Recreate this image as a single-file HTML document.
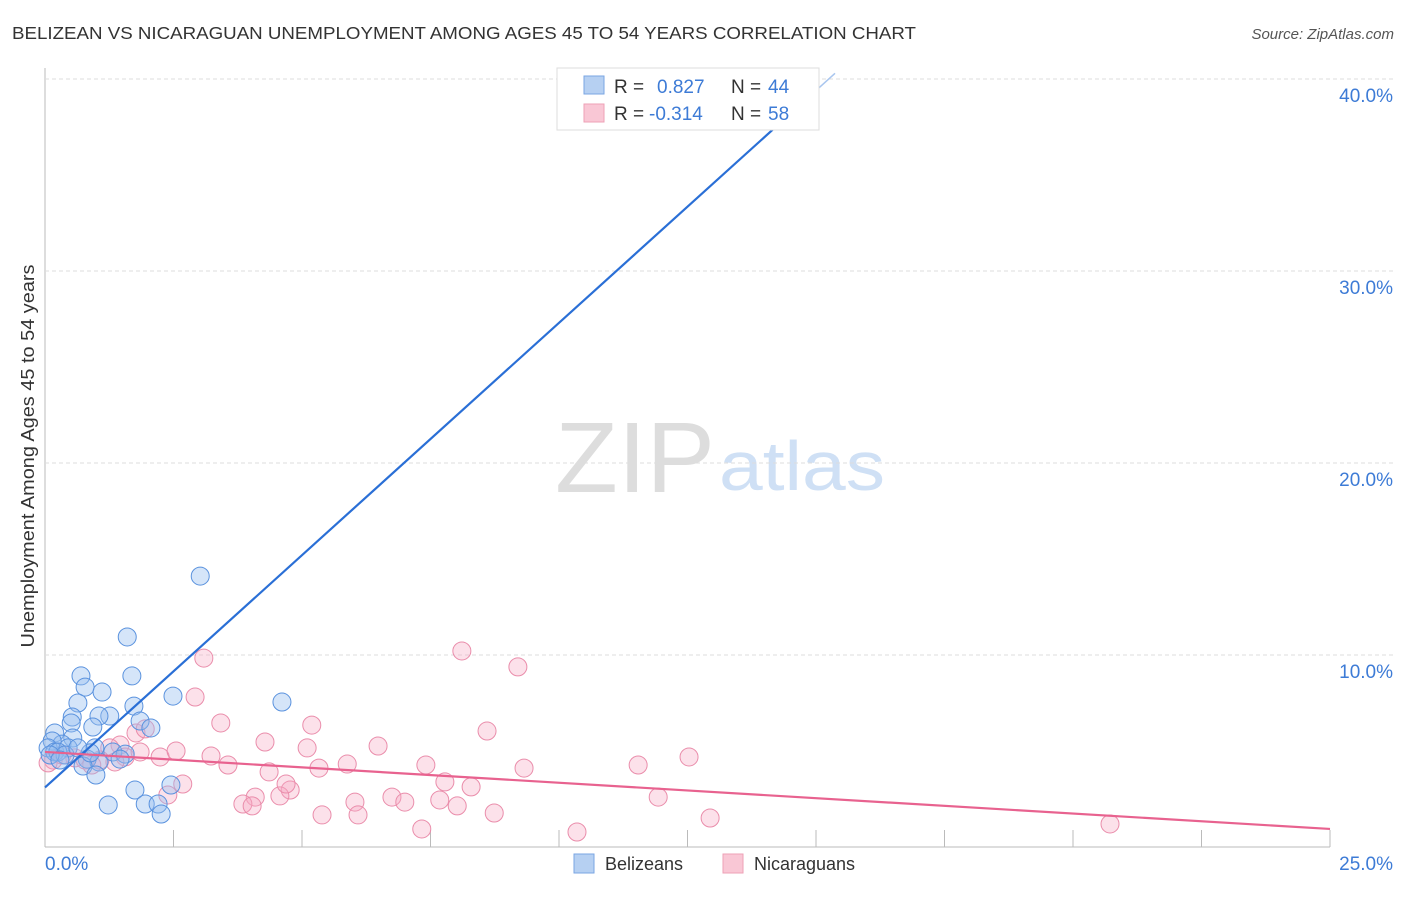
<!DOCTYPE html>
<html><head><meta charset="utf-8"><style>
body{margin:0;background:#fff;font-family:"Liberation Sans",sans-serif}
svg text{font-family:"Liberation Sans",sans-serif}
</style></head><body>
<svg id="c" width="1406" height="892" xmlns="http://www.w3.org/2000/svg">
<text x="12" y="39" font-size="17.5" fill="#333" textLength="904" lengthAdjust="spacingAndGlyphs">BELIZEAN VS NICARAGUAN UNEMPLOYMENT AMONG AGES 45 TO 54 YEARS CORRELATION CHART</text>
<text x="1394" y="39" font-size="15" fill="#555" font-style="italic" text-anchor="end">Source: ZipAtlas.com</text>
<text x="635" y="492" font-size="100" fill="#ddd" font-family="Liberation Serif, serif" text-anchor="middle" textLength="160" lengthAdjust="spacingAndGlyphs">ZIP</text>
<text x="802" y="490" font-size="70" fill="#cfe0f5" text-anchor="middle" textLength="166" lengthAdjust="spacingAndGlyphs">atlas</text>
<text transform="translate(34,456) rotate(-90)" font-size="18" fill="#333" text-anchor="middle" textLength="383" lengthAdjust="spacingAndGlyphs">Unemployment Among Ages 45 to 54 years</text>
<g id="grid"></g><g id="pts"></g><g id="lines"></g>
<g>
<rect x="557" y="68" width="262" height="62" fill="#fff" stroke="#ddd"/>
<rect x="584" y="76" width="20" height="18" fill="#b6d0f2" stroke="#7aa6e3"/>
<rect x="584" y="104" width="20" height="18" fill="#f9c7d5" stroke="#eea0b6"/>
<text x="614" y="93" font-size="19" fill="#333">R =</text><text x="657" y="93" font-size="19" fill="#3d7bd6">0.827</text>
<text x="731" y="93" font-size="19" fill="#333">N =</text><text x="768" y="93" font-size="19" fill="#3d7bd6">44</text>
<text x="614" y="120" font-size="19" fill="#333">R =</text><text x="649" y="120" font-size="19" fill="#3d7bd6">-0.314</text>
<text x="731" y="120" font-size="19" fill="#333">N =</text><text x="768" y="120" font-size="19" fill="#3d7bd6">58</text>
</g>
<g>
<rect x="574" y="854" width="20" height="19" fill="#b6d0f2" stroke="#7aa6e3"/>
<text x="605" y="870" font-size="18" fill="#333">Belizeans</text>
<rect x="723" y="854" width="20" height="19" fill="#f9c7d5" stroke="#eea0b6"/>
<text x="754" y="870" font-size="18" fill="#333">Nicaraguans</text>
</g>
</svg>
<script>
const xTicks=[0,2.5,5,7.5,10,12.5,15,17.5,20,22.5,25];
const yTicks=[10,20,30,40];
const blueX=[3.02,1.60,0.70,1.69,0.78,1.11,0.64,2.49,4.61,1.73,0.53,1.26,1.05,1.85,2.06,0.93,0.51,0.19,0.54,0.33,0.14,0.06,0.19,0.45,0.97,1.32,1.56,1.46,0.82,1.05,0.74,0.99,2.45,1.75,1.23,1.95,2.20,2.26,0.25,0.39,0.88,0.10,0.29,0.64];
const blueY=[14.11,10.94,8.91,8.91,8.33,8.07,7.50,7.86,7.55,7.34,6.77,6.82,6.82,6.56,6.20,6.25,6.46,5.94,5.68,5.36,5.52,5.16,4.95,5.16,5.16,4.95,4.84,4.58,4.58,4.43,4.22,3.75,3.23,2.97,2.19,2.24,2.24,1.72,4.95,4.79,4.90,4.79,4.53,5.16];
const pinkX=[3.09,2.92,3.42,5.19,1.77,1.95,4.28,5.10,6.48,8.11,9.20,8.60,12.53,11.54,2.24,2.55,3.23,3.56,4.36,5.33,5.88,7.41,7.78,8.29,9.32,4.77,4.09,3.85,4.03,4.57,4.69,6.75,7.00,6.03,6.09,5.39,7.68,8.02,8.74,7.33,10.35,11.93,12.94,20.72,2.68,2.39,1.46,1.26,0.16,0.06,0.33,0.58,0.78,1.07,1.56,0.91,1.85,1.36];
const pinkY=[9.84,7.81,6.46,6.35,5.94,6.15,5.47,5.16,5.26,10.21,9.38,6.04,4.69,4.27,4.69,5.00,4.74,4.27,3.91,4.11,4.32,4.27,3.39,3.13,4.11,2.97,2.60,2.24,2.14,2.66,3.28,2.60,2.34,2.34,1.67,1.67,2.45,2.14,1.77,0.94,0.78,2.60,1.51,1.20,3.28,2.71,5.31,5.16,4.53,4.38,4.79,4.64,4.53,4.53,4.69,4.27,4.95,4.43];
const blueFit=[3.1,2.42];
const pinkFit=[4.95,-0.1604];
const X=v=>45+v*51.4, Y=v=>847-v*19.2;
const NS='http://www.w3.org/2000/svg';
function mk(p,t,a){const e=document.createElementNS(NS,t);for(const k in a)e.setAttribute(k,a[k]);p.appendChild(e);return e;}
const grid=document.getElementById('grid');
let ax=mk(grid,'line',{x1:45,y1:68,x2:45,y2:847,stroke:'#bbb'});


let bx=mk(grid,'line',{x1:45,y1:847,x2:1330,y2:847,stroke:'#bbb'});


yTicks.forEach(v=>{
 const g=mk(grid,'line',{x1:45,x2:1395,y1:Y(v),y2:Y(v),stroke:'#ddd','stroke-dasharray':'4,3'});
 
 
 const t=mk(grid,'text',{x:1393,y:Y(v)+23,'font-size':19,fill:'#3d7bd6','text-anchor':'end'});
 t.textContent=v.toFixed(1)+'%';
 
 
});
xTicks.forEach((v,i)=>{
 if(i>0){const l=mk(grid,'line',{x1:X(v),x2:X(v),y1:830,y2:847,stroke:'#bbb'});
 
 }
});
[[0,'start',45],[25,'end',1393]].forEach(([v,a,x])=>{
 const t=mk(grid,'text',{x:x,y:870,'font-size':19,fill:'#3d7bd6','text-anchor':a});
 t.textContent=v.toFixed(1)+'%';
 
 
});
const pts=document.getElementById('pts');
pinkX.forEach((v,i)=>{
 const c=mk(pts,'circle',{cx:X(v),cy:Y(pinkY[i]),r:9,fill:'rgba(245,170,195,0.35)',stroke:'#ea8dab','stroke-width':1});
 
 
});
blueX.forEach((v,i)=>{
 const c=mk(pts,'circle',{cx:X(v),cy:Y(blueY[i]),r:9,fill:'rgba(150,190,240,0.4)',stroke:'#5a92de','stroke-width':1});
 
 
});
const lines=document.getElementById('lines');
const b=x=>blueFit[0]+blueFit[1]*x, p=x=>pinkFit[0]+pinkFit[1]*x;
let l1=mk(lines,'line',{x1:X(0),y1:Y(b(0)),x2:X(14.9),y2:Y(b(14.9)),stroke:'#2a6fd6','stroke-width':2.2});


let l2=mk(lines,'line',{x1:X(14.9),y1:Y(b(14.9)),x2:X(15.37),y2:Y(b(15.37)),stroke:'#a9c6ef','stroke-width':1.5});


let l3=mk(lines,'line',{x1:X(0),y1:Y(p(0)),x2:X(25),y2:Y(p(25)),stroke:'#e8628f','stroke-width':2.2});


</script>
</body></html>
